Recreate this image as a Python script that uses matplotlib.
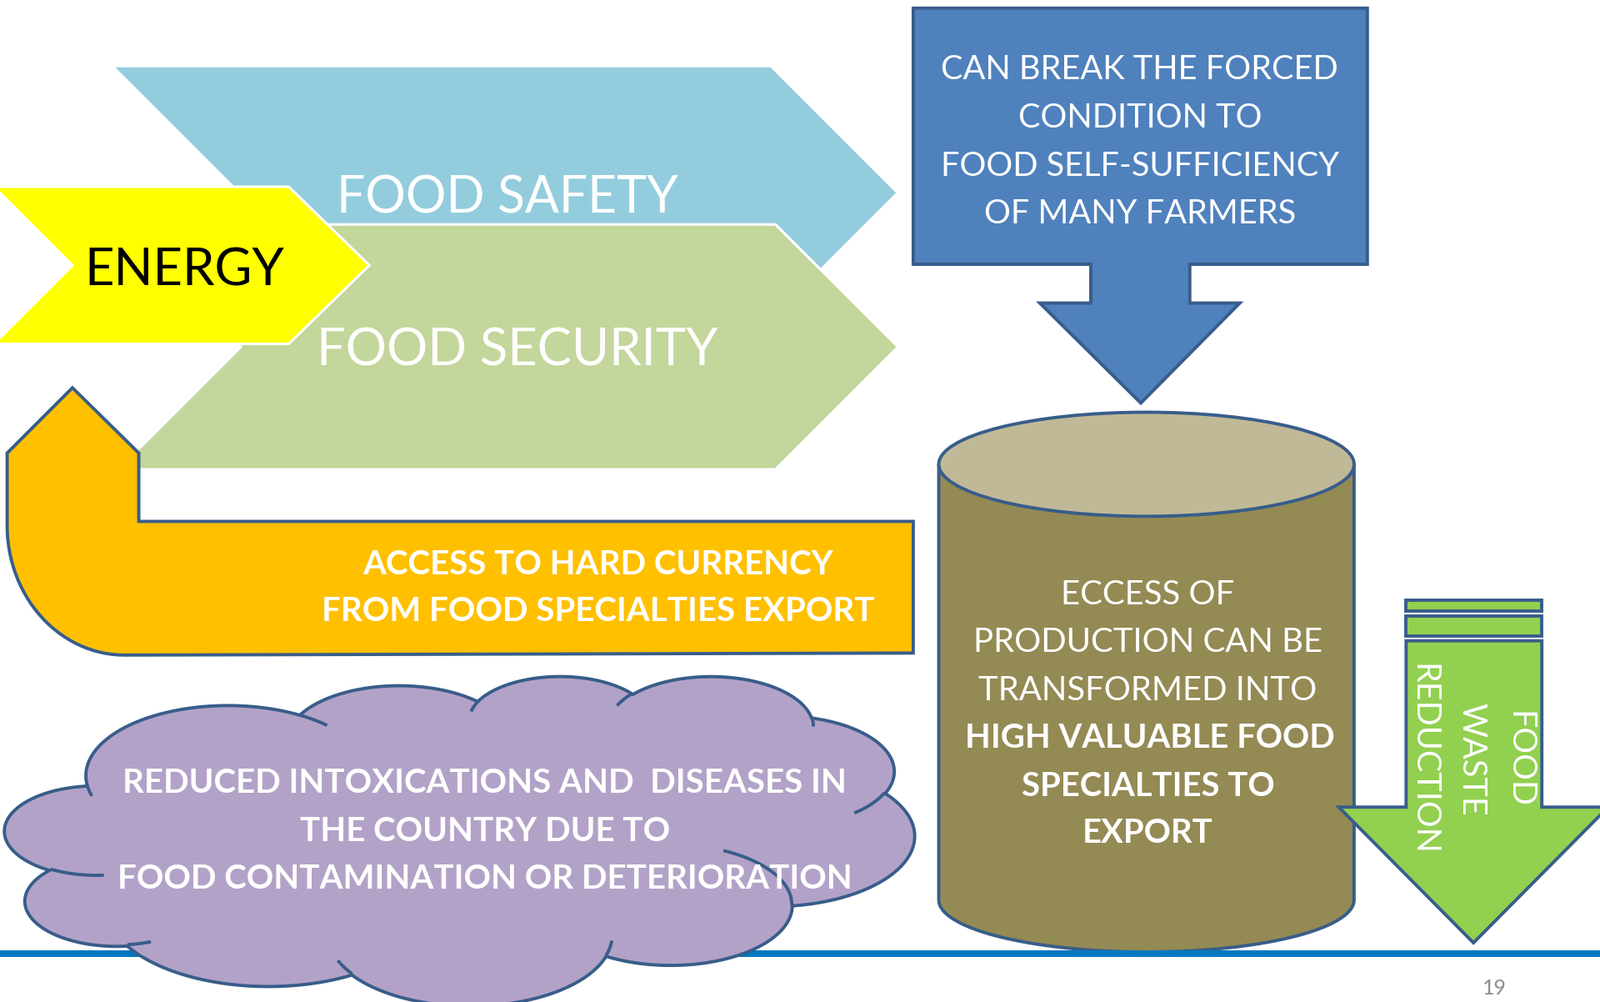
import numpy as np
import matplotlib
matplotlib.use("Agg")
import matplotlib.pyplot as plt
from matplotlib.patches import Polygon, Rectangle, Ellipse

# ---- texts of the slide ----
safety_label = "FOOD SAFETY"
security_label = "FOOD SECURITY"
energy_label = "ENERGY"
currency_lines = ["ACCESS TO HARD CURRENCY", "FROM FOOD SPECIALTIES EXPORT"]
farmers_lines = ["CAN BREAK THE FORCED", "CONDITION TO", "FOOD SELF-SUFFICIENCY", "OF MANY FARMERS"]
cyl_lines = ["ECCESS OF", "PRODUCTION CAN BE", "TRANSFORMED INTO",
             "HIGH VALUABLE FOOD", "SPECIALTIES TO", "EXPORT"]
cyl_bold = [False, False, False, True, True, True]
cloud_lines = ["REDUCED INTOXICATIONS AND  DISEASES IN", "THE COUNTRY DUE TO",
               "FOOD CONTAMINATION OR DETERIORATION"]
waste_lines = ["FOOD", "WASTE", "REDUCTION"]
page_no = "19"

# powerpoint "cloud" preset path (43200 box): start point + arcTo(wR, hR, stAng, swAng)
cloud_start = (3900, 14370)
cloud_arcs = [(6753, 9190, -11429249, 7426832), (5333, 7267, -8646143, 5396714),
              (4365, 5945, -8748475, 5983381), (4857, 6595, -7859164, 7034504),
              (5333, 7273, -4722533, 6541615), (6775, 9220, -2776035, 7816140),
              (5785, 7867, 37501, 6842000), (6752, 9215, 1347096, 6910353),
              (7720, 10543, 3974558, 4542661), (4360, 5918, -16496525, 8804134),
              (4345, 5945, -14809710, 9151131)]
cloud_inner = [((4693, 26177), 4345, 5945, 5204520, 1585770), ((6928, 34899), 4360, 5918, 4416628, 686848),
               ((16478, 39090), 6752, 9215, 8257449, 844866), ((28827, 34751), 6752, 9215, 387196, 959901),
               ((34129, 22954), 5785, 7867, -4217541, 4255042), ((41798, 15354), 5333, 7273, 1819082, 1665090),
               ((38324, 5426), 4857, 6595, -824660, 891534), ((29078, 3952), 4857, 6595, -8950887, 1091722),
               ((22141, 4720), 4365, 5945, -9809656, 1061181), ((14000, 5192), 6753, 9190, -4002417, 739161),
               ((4127, 15789), 6753, 9190, 9459261, 711490)]

OUTLINE = "#385D8A"
LW = 2.8
FONT = "Lato"

fig = plt.figure(figsize=(19.2, 12.02), dpi=100)
ax = fig.add_axes([0, 0, 1, 1])
ax.set_xlim(0, 1568)
ax.set_ylim(982, 0)
ax.axis("off")
R = fig.canvas.get_renderer()
PX = 1920 / 1568


def fit(x, y, s, width, **kw):
    # size the text so that it spans `width` slide units
    t = ax.text(x, y, s, fontsize=40, family=FONT, **kw)
    bb = t.get_window_extent(renderer=R)
    size = 40 * width * PX / (bb.height if kw.get("rotation") else bb.width)
    t.set_fontsize(size)
    return size


def arc(p, wR, hR, st, sw, n=50):
    st, sw = np.deg2rad(st / 60000), np.deg2rad(sw / 60000)
    par = lambda a: np.arctan2(wR * np.sin(a), hR * np.cos(a))
    t0 = par(st)
    cx, cy = p[0] - wR * np.cos(t0), p[1] - hR * np.sin(t0)
    ts = np.unwrap(par(np.linspace(st, st + sw, n)))
    return np.column_stack([cx + wR * np.cos(ts), cy + hR * np.sin(ts)])


# chevrons
ax.add_patch(Polygon([(113, 66), (755, 66), (878, 189), (755, 312), (113, 312), (236, 189)],
                     fc="#93CDDD", ec="none", zorder=1))
ax.add_patch(Polygon([(116, 220), (760, 220), (880, 340), (760, 460), (116, 460), (236, 340)],
                     fc="#C3D69B", ec="white", lw=2.2, zorder=2))
ax.add_patch(Polygon([(-6, 183), (283, 183), (362, 260), (283, 337), (-6, 337), (71, 260)],
                     fc="#FFFF00", ec="white", lw=2.2, zorder=3))
fit(497, 209, safety_label, 335, ha="center", va="baseline", color="white", zorder=4)
fit(507, 358, security_label, 393, ha="center", va="baseline", color="white", zorder=4)
fit(181, 280, energy_label, 196, ha="center", va="baseline", color="black", zorder=4)

# orange U arrow
th = np.linspace(np.pi / 2, np.pi, 30)
corner = np.column_stack([122 + 115 * np.cos(th), 515 + 127 * np.sin(th)])
orange = np.vstack([[(71, 380), (136, 444), (136, 511), (895, 511), (895, 640)], corner, [(7, 444)]])
ax.add_patch(Polygon(orange, fc="#FFC000", ec=OUTLINE, lw=LW, zorder=5, joinstyle="miter"))
fs = fit(586, 609, currency_lines[1], 542, ha="center", va="baseline", color="white",
         weight="bold", zorder=6)
ax.text(586, 563, currency_lines[0], fontsize=fs, family=FONT, ha="center", va="baseline",
        color="white", weight="bold", zorder=6)

# blue callout
callout = [(895, 8), (1340, 8), (1340, 259), (1166, 259), (1166, 297), (1215, 297), (1118, 395),
           (1019, 297), (1069, 297), (1069, 259), (895, 259)]
ax.add_patch(Polygon(callout, fc="#4F81BD", ec=OUTLINE, lw=LW, zorder=5, joinstyle="miter"))
fs = fit(1117, 78, farmers_lines[0], 390, ha="center", va="baseline", color="white", zorder=6)
for line, yb in zip(farmers_lines[1:], [125, 172, 219]):
    ax.text(1117, yb, line, fontsize=fs, family=FONT, ha="center", va="baseline", color="white", zorder=6)

# cylinder
cl, cr, ctop, cbot, ry = 920, 1327, 455, 882, 51
cx, rx = (cl + cr) / 2, (cr - cl) / 2
th = np.linspace(np.pi, 0, 80)
body = np.vstack([[(cl, ctop)], np.column_stack([cx + rx * np.cos(th), cbot + ry * np.sin(th)]), [(cr, ctop)]])
ax.add_patch(Polygon(body, closed=False, fc="#948A54", ec=OUTLINE, lw=LW, zorder=5))
ax.add_patch(Ellipse((cx, ctop), 2 * rx, 2 * ry, fc="#C0B997", ec=OUTLINE, lw=LW, zorder=6))
fs_r = fit(1125, 639, cyl_lines[1], 343, ha="center", va="baseline", color="white", zorder=7)
fs_b = fit(1127, 733, cyl_lines[3], 363, ha="center", va="baseline", color="white", weight="bold", zorder=7)
for line, bold, yb in zip(cyl_lines, cyl_bold, [592, 639, 686, 733, 780, 826]):
    if line in (cyl_lines[1], cyl_lines[3]):
        continue
    ax.text(1125, yb, line, fontsize=fs_b if bold else fs_r, family=FONT, ha="center", va="baseline",
            color="white", weight="bold" if bold else "normal", zorder=7)

# blue rule + page number
ax.add_patch(Rectangle((0, 931), 1568, 7, fc="#0079C1", ec="none", zorder=8))
ax.text(1465, 975, page_no, fontsize=18, family=FONT, color="#8C8C8C", ha="center", va="baseline")

# cloud
bx0, by0, bx1, by1 = 5, 662, 896, 985
to_slide = lambda a: np.column_stack([bx0 + a[:, 0] / 43200 * (bx1 - bx0), by0 + a[:, 1] / 43200 * (by1 - by0)])
pts, p = [np.array([cloud_start], float)], cloud_start
for wR, hR, st, sw in cloud_arcs:
    seg = arc(p, wR, hR, st, sw)
    pts.append(seg)
    p = seg[-1]
outer = to_slide(np.vstack(pts))
ax.add_patch(Polygon(outer, fc="#B3A2C7", ec=OUTLINE, lw=LW, zorder=9))
for start, wR, hR, st, sw in cloud_inner:
    seg = to_slide(arc(start, wR, hR, st, sw))
    ax.plot(seg[:, 0], seg[:, 1], color=OUTLINE, lw=LW, zorder=10, solid_capstyle="butt")
fs = fit(475, 871, cloud_lines[2], 720, ha="center", va="baseline", color="white", weight="bold", zorder=11)
for line, yb in zip(cloud_lines[:2], [777, 824]):
    ax.text(475, yb, line, fontsize=fs, family=FONT, ha="center", va="baseline", color="white",
            weight="bold", zorder=11)

# green down arrow
ax.add_patch(Rectangle((1378, 588), 133, 11, fc="#92D050", ec=OUTLINE, lw=LW, zorder=9))
ax.add_patch(Rectangle((1378, 604), 133, 19, fc="#92D050", ec=OUTLINE, lw=LW, zorder=9))
arrow = [(1378, 628), (1511, 628), (1511, 791), (1576, 791), (1444, 924), (1312, 791), (1378, 791)]
ax.add_patch(Polygon(arrow, fc="#92D050", ec=OUTLINE, lw=LW, zorder=9, joinstyle="miter"))
fs = fit(1395, 744, waste_lines[2], 188, ha="center", va="center", rotation=270, color="white", zorder=10)
for line, x in zip(waste_lines[:2], [1489, 1442]):
    ax.text(x, 744, line, fontsize=fs, family=FONT, ha="center", va="center", rotation=270,
            color="white", zorder=10)

fig.savefig("out.png", dpi=100)
